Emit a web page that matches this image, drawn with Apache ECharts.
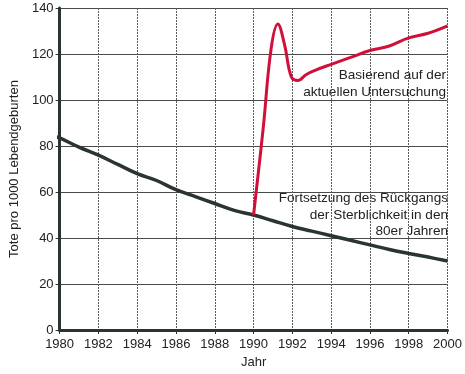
<!DOCTYPE html>
<html><head><meta charset="utf-8">
<script src="https://cdn.jsdelivr.net/npm/echarts@6/dist/echarts.min.js"></script>
<style>html,body{margin:0;padding:0;background:#fff}#c{width:465px;height:374px}</style>
</head><body><div id="c"></div>
<script>
const yearTicks = [1980,1982,1984,1986,1988,1990,1992,1994,1996,1998,2000];
const trendYears = [1979.8,1980,1981,1982,1983,1984,1985,1986,1987,1988,1989,1990,1991,1992,1993,1994,1995,1996,1997,1998,1999,2000];
const trendValues = [84,83.5,79.5,76,72,68,65,61,58,55,52,50,47.5,45,43,41,39,37,35,33.3,31.7,30];
const studyYears = [1990,1990.5,1990.9,1991.25,1991.6,1991.95,1992.3,1992.7,1993.2,1994,1995,1996,1997,1998,1999,2000];
const studyValues = [50,88,122,133,124,110,108.5,111,113,115.5,118.5,121.5,123.5,127,129,132.2];
const labelStudy = "Basierend auf der\naktuellen Untersuchung";
const labelTrend = "Fortsetzung des Rückgangs\nder Sterblichkeit in den\n80er Jahren";

const chart = echarts.init(document.getElementById('c'), null, {renderer:'canvas'});
const font = 'Liberation Sans, Arial, sans-serif';
chart.setOption({
  animation:false,
  grid:{left:52,right:16,top:8,bottom:44,containLabel:false},
  xAxis:{type:'value',min:1980,max:2000,interval:2,
    name:'Jahr',nameLocation:'middle',nameGap:25,
    nameTextStyle:{color:'#222',fontSize:13,fontFamily:font},
    axisLine:{lineStyle:{color:'#2a3430',width:3}},
    axisTick:{show:true,length:4,lineStyle:{color:'#2a3430',width:1}},
    axisLabel:{color:'#222',fontSize:13,fontFamily:font,margin:8,formatter:v=>String(v)},
    splitLine:{show:true,lineStyle:{color:'#5a5a5a',width:1,type:[2,1]}}},
  yAxis:{type:'value',min:0,max:140,interval:20,
    name:'Tote pro 1000 Lebendgeburten',nameLocation:'middle',nameGap:30,nameRotate:90,
    nameTextStyle:{color:'#222',fontSize:13,fontFamily:font},
    axisLine:{show:true,lineStyle:{color:'#2a3430',width:3}},
    axisTick:{show:true,length:4,lineStyle:{color:'#2a3430',width:1}},
    axisLabel:{color:'#222',fontSize:13,fontFamily:font,margin:6},
    splitLine:{show:true,lineStyle:{color:'#4a4a4a',width:1}}},
  series:[
    {type:'line',data:trendYears.map((y,i)=>[y,trendValues[i]]),smooth:0.4,showSymbol:false,
     lineStyle:{color:'#2b3530',width:3.5},z:3},
    {type:'line',data:studyYears.map((y,i)=>[y,studyValues[i]]),smooth:0.4,showSymbol:false,
     lineStyle:{color:'#d0103a',width:3},z:4}
  ],
  graphic:[
    {type:'text',x:446,y:67,style:{text:labelStudy,fill:'#222',font:'13.6px '+font,align:'right',lineHeight:17}},
    {type:'text',x:448,y:190,style:{text:labelTrend,fill:'#222',font:'13.6px '+font,align:'right',lineHeight:16.5}}
  ]
});
</script></body></html>
